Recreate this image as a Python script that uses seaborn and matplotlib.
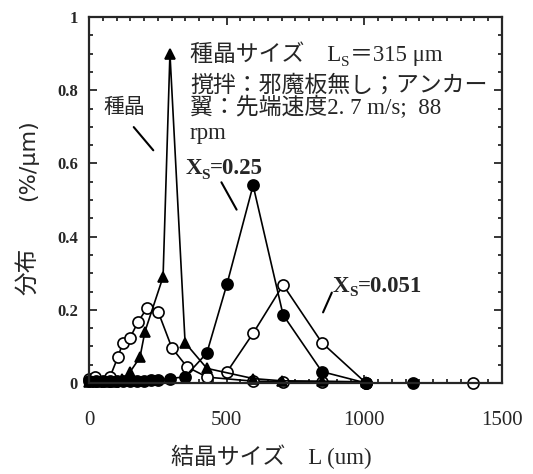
import matplotlib
matplotlib.use("Agg")
import matplotlib.pyplot as plt
import seaborn as sns
import pandas as pd
from matplotlib.ticker import MultipleLocator, FixedLocator
from matplotlib.transforms import offset_copy

# ---- data ----
seed_L = [0, 30, 60, 90, 120, 149, 185, 203, 269, 294, 349, 428, 597, 700, 846, 1006]
seed_y = [0.003, 0.003, 0.003, 0.004, 0.01, 0.03, 0.07, 0.14, 0.29, 0.90, 0.11, 0.04, 0.012, 0.006, 0.005, 0.003]

x025_L = [0, 25, 50, 75, 100, 125, 150, 175, 200, 225, 250, 294, 349, 428, 501, 596, 705, 846, 1006, 1177]
x025_y = [0.005, 0.005, 0.005, 0.005, 0.005, 0.005, 0.005, 0.005, 0.006, 0.007, 0.008, 0.012, 0.017,
          0.082, 0.27, 0.54, 0.186, 0.031, 0.0, 0.0]

fine_L = [0, 22, 76, 105, 123, 149, 178, 211, 251, 301, 356, 429, 597, 705, 846, 1006]
fine_y = [0.01, 0.016, 0.016, 0.071, 0.11, 0.123, 0.167, 0.205, 0.195, 0.096, 0.044, 0.016,
          0.005, 0.004, 0.003, 0.0]

x0051_L = [501, 597, 705, 846, 1006, 1396]
x0051_y = [0.03, 0.137, 0.268, 0.11, 0.0, 0.0]

x_ticks = [0, 500, 1000, 1500]
y_ticks = [0, 0.2, 0.4, 0.6, 0.8, 1.0]
y_tick_labels = ["0", "0.2", "0.4", "0.6", "0.8", "1"]

sns.set_style("ticks")
plt.rcParams["font.family"] = ["Liberation Serif", "Noto Sans CJK JP"]
plt.rcParams["mathtext.fontset"] = "stix"

fig = plt.figure(figsize=(5.33, 4.74), dpi=100)
ax = fig.add_axes([89 / 533, 1 - 383 / 474, 413 / 533, 366 / 474])

common = dict(color="black", linewidth=1.2, markeredgecolor="black", markeredgewidth=1.2,
              clip_on=False, sort=False, legend=False, ax=ax)

sns.lineplot(data=pd.DataFrame({"L": fine_L, "y": fine_y}), x="L", y="y", marker="o",
             markersize=8, markerfacecolor="white", **common)
sns.lineplot(data=pd.DataFrame({"L": x0051_L, "y": x0051_y}), x="L", y="y", marker="o",
             markersize=8, markerfacecolor="white", **common)
sns.lineplot(data=pd.DataFrame({"L": x025_L, "y": x025_y}), x="L", y="y", marker="o",
             markersize=8, markerfacecolor="black", **common)
sns.lineplot(data=pd.DataFrame({"L": seed_L, "y": seed_y}), x="L", y="y", marker="^",
             markersize=7, markerfacecolor="black", **common)

ax.set_xlim(0, 1500)
ax.set_ylim(0, 1)
ax.xaxis.set_major_locator(FixedLocator(x_ticks))
ax.xaxis.set_minor_locator(MultipleLocator(50))
ax.yaxis.set_major_locator(FixedLocator(y_ticks))
ax.yaxis.set_minor_locator(MultipleLocator(0.05))
ax.set_yticklabels(y_tick_labels)
ax.tick_params(which="both", direction="in", top=True, right=True, width=1.3)
ax.tick_params(which="major", length=6)
ax.tick_params(which="minor", length=3)
ax.tick_params(axis="x", labelsize=15, pad=20)
ax.tick_params(axis="y", labelsize=12, pad=8)
for lab in ax.get_yticklabels():
    lab.set_fontweight("bold")
for s in ax.spines.values():
    s.set_linewidth(1.6)
ax.set_xlabel("")
ax.set_ylabel("")

fig.text(271 / 533, 1 - 457 / 474, "結晶サイズ　L (um)", ha="center", va="center", fontsize=16.5)
fig.text(28 / 533, 1 - 160 / 474, "(%/μm)", ha="center", va="center", rotation=90,
         fontsize=16, family="DejaVu Sans")
fig.text(28 / 533, 1 - 271 / 474, "分布", ha="center", va="center", rotation=90, fontsize=17)

renderer = fig.canvas.get_renderer()


def text_run(x, y, pieces, **kw):
    """Draw consecutive text pieces; each piece = (text, fontsize, dy_points, weight)."""
    dx = 0.0
    for txt, fs, dy, wt in pieces:
        tr = offset_copy(ax.transData, fig=fig, x=dx, y=dy, units="dots")
        t = ax.text(x, y, txt, transform=tr, fontsize=fs, fontweight=wt,
                    va="baseline", ha="left", **kw)
        bb = t.get_window_extent(renderer=renderer)
        dx += bb.width


# annotations (baseline positions)
fs = 16.5
text_run(367, 0.88, [("種晶サイズ　L", fs, 0, "normal"), ("S", 11, -5, "normal"),
                     ("＝315 μm", fs, 0, "normal")])
ax.text(367, 0.795, "撹拌：邪魔板無し；アンカー", fontsize=fs, va="baseline", ha="left")
ax.text(367, 0.735, "翼：先端速度2. 7 m/s;  88", fontsize=fs, va="baseline", ha="left")
ax.text(367, 0.668, "rpm", fontsize=fs, va="baseline", ha="left")

ax.text(51, 0.75, "種晶", fontsize=15, va="center", ha="left")
ax.annotate("", xy=(240, 0.63), xytext=(156, 0.705),
            arrowprops=dict(arrowstyle="-", color="black", lw=1.5))

text_run(349, 0.572, [("X", 16.5, 0, "bold"), ("S", 11, -5, "bold"), ("=0.25", 16.5, 0, "bold")])
ax.annotate("", xy=(541, 0.467), xytext=(476, 0.555),
            arrowprops=dict(arrowstyle="-", color="black", lw=1.5))

text_run(886, 0.25, [("X", 16.5, 0, "bold"), ("S", 11, -5, "bold"), ("=0.051", 16.5, 0, "bold")])
ax.annotate("", xy=(846, 0.186), xytext=(886, 0.254),
            arrowprops=dict(arrowstyle="-", color="black", lw=1.5))

fig.savefig("out.png", dpi=100)
